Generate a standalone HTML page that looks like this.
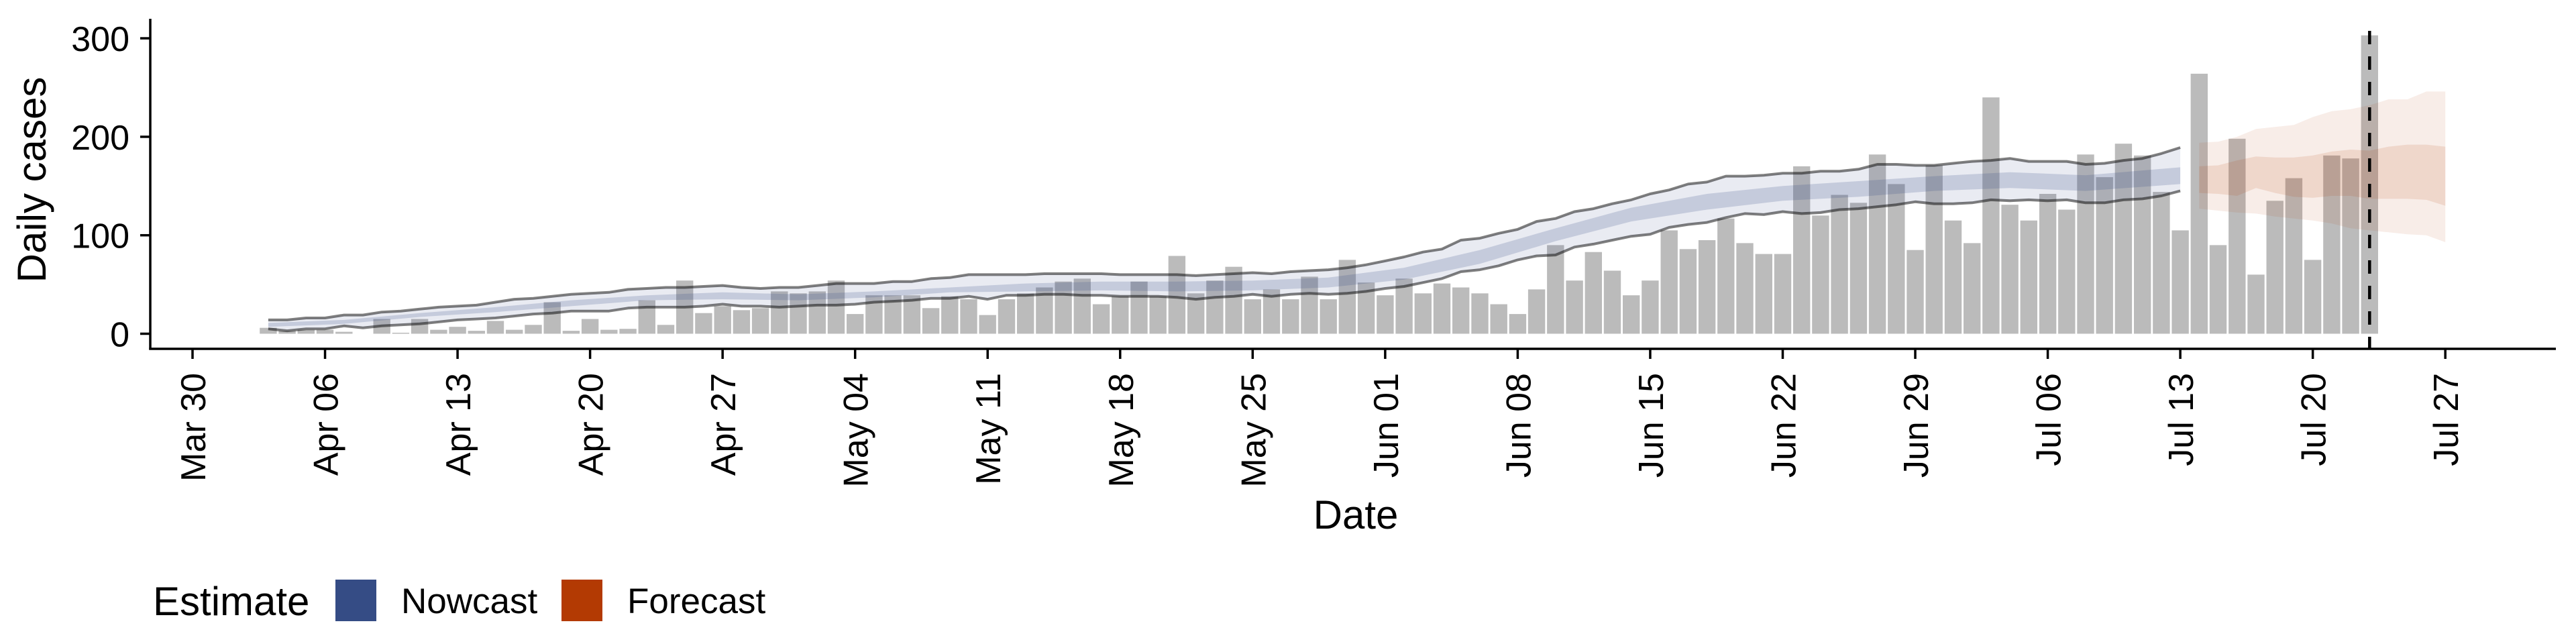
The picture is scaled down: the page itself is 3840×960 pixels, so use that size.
<!DOCTYPE html>
<html>
<head>
<meta charset="utf-8">
<style>
  html,body{margin:0;padding:0;background:#fff;}
  svg{display:block;}
  text{font-family:"Liberation Sans",Arial,sans-serif;fill:#000;}
</style>
</head>
<body>
<svg id="chart" width="3840" height="960" viewBox="0 0 3840 960" xmlns="http://www.w3.org/2000/svg">
  <g id="bars"></g>
  <g id="bands"></g>
  <g id="lines"></g>
  <g id="axes"></g>
  <text x="52" y="268" font-size="60" text-anchor="middle" transform="rotate(-90 52 268)" dominant-baseline="middle">Daily cases</text>
  <text x="2021" y="788" font-size="60" text-anchor="middle">Date</text>
  <g>
    <text x="228" y="917" font-size="60">Estimate</text>
    <rect x="500" y="864" width="61" height="62" fill="#354c85"></rect>
    <text x="598" y="914" font-size="53">Nowcast</text>
    <rect x="837" y="864" width="61" height="62" fill="#b33a03"></rect>
    <text x="935" y="914" font-size="53">Forecast</text>
  </g>
</svg>
<script>
// ---- data ----
const barStartDay = 4; // days since Mar 30
const cases = [6,3,4,4,2,0,15,1,15,4,7,3,13,4,9,32,3,15,4,5,34,9,54,21,
  28,24,26,43,41,43,54,20,39,39,39,26,38,35,19,35,41,47,53,56,30,38,53,38,79,
  41,54,68,35,45,35,58,35,75,52,39,56,41,51,47,41,30,20,45,90,54,83,64,39,
  54,105,86,95,117,92,81,81,170,120,141,133,182,152,85,171,115,92,240,131,115,142,126,182,
  159,193,181,144,105,264,90,198,60,135,158,75,181,178,303];
const nowStartDay = 4;
const nowUpper90 = [14,14,16,16,19,19,22,23,25,27,28,29,32,35,36,38,40,41,42,45,46,47,47,48,49,
  47,46,47,47,49,51,51,51,53,53,56,57,60,60,60,60,61,61,61,61,60,60,60,60,
  59,60,61,62,61,63,64,65,67,70,74,78,83,86,95,97,102,106,114,117,124,127,132,136,
  142,146,152,154,160,160,161,163,163,165,165,167,172,172,171,171,173,175,176,178,175,175,175,172,
  173,176,178,183,189];
const nowLower90 = [5,3,5,5,8,6,8,9,10,12,14,15,16,18,20,21,23,23,23,26,27,27,27,28,30,
  28,28,27,28,29,29,30,32,33,34,36,36,38,35,39,39,40,40,39,39,38,38,38,37,
  35,37,38,40,38,40,41,40,41,43,46,48,52,56,63,65,69,75,79,80,88,91,95,99,
  101,108,111,113,118,122,121,124,122,123,126,127,129,131,134,132,132,133,136,135,136,135,136,133,
  133,136,137,140,145];
const now50Days = [4,8,12,16,20,24,28,32,36,40,44,48,52,56,60,64,68,72,76,80,84,88,92,96,100,105];
const nowUpper50 = [11,14,21,27,34,39,42,40,43,47,51,53,53,54,57,67,85,107,128,142,150,155,160,164,161,169];
const nowLower50 = [7,10,17,22,28,34,35,34,37,42,43,44,43,44,47,55,71,94,114,126,135,139,145,148,145,152];
const foreStartDay = 106;
const foreUpper90 = [194,195,200,208,210,212,220,226,228,232,238,238,246,246];
const foreLower90 = [127,125,123,122,119,117,115,112,107,105,103,101,100,93];
const foreUpper50 = [170,171,176,180,179,179,181,185,187,186,190,192,192,190];
const foreLower50 = [143,142,140,148,143,139,138,140,140,137,137,137,136,130];
const dataDay = 115;
const yTicks = [0,100,200,300];
const xTickLabels = ["Mar 30","Apr 06","Apr 13","Apr 20","Apr 27","May 04","May 11","May 18","May 25","Jun 01","Jun 08","Jun 15","Jun 22","Jun 29","Jul 06","Jul 13","Jul 20","Jul 27"];

// ---- scales ----
const X0 = 287, DAYPX = 28.22, Y0 = 497.5, VPX = 1.468;
function x(d){ return X0 + d*DAYPX; }
function y(v){ return Y0 - v*VPX; }
const NS = "http://www.w3.org/2000/svg";
function mk(tag, attrs, parent){
  const e = document.createElementNS(NS, tag);
  for (const k in attrs) e.setAttribute(k, attrs[k]);
  parent.appendChild(e);
  return e;
}
function bandPath(days, up, lo){
  let p = "";
  days.forEach((d,i)=>{ p += (i?"L":"M") + x(d).toFixed(1) + "," + y(up[i]).toFixed(1); });
  for (let i=days.length-1;i>=0;i--) p += "L" + x(days[i]).toFixed(1) + "," + y(lo[i]).toFixed(1);
  return p + "Z";
}
function linePath(days, vals){
  return days.map((d,i)=>(i?"L":"M")+x(d).toFixed(1)+","+y(vals[i]).toFixed(1)).join("");
}
function seq(start, n){ const a=[]; for(let i=0;i<n;i++) a.push(start+i); return a; }

// ---- bars ----
const gb = document.getElementById("bars");
const bw = DAYPX*0.9;
cases.forEach((v,i)=>{
  const d = barStartDay + i;
  const r = mk("rect", {x:(x(d)-bw/2).toFixed(1), y:y(v).toFixed(1), width:bw.toFixed(1), height:(v*VPX).toFixed(1), fill:"#bbbbbb"}, gb);
  
  
});

// ---- bands ----
const gband = document.getElementById("bands");
const nowDays = seq(nowStartDay, nowUpper90.length);
let e;
e = mk("path", {d:bandPath(nowDays, nowUpper90, nowLower90), fill:"rgba(53,76,133,0.11)"}, gband);


e = mk("path", {d:bandPath(now50Days, nowUpper50, nowLower50), fill:"rgba(53,76,133,0.2)"}, gband);


const foreDays = seq(foreStartDay, foreUpper90.length);
e = mk("path", {d:bandPath(foreDays, foreUpper90, foreLower90), fill:"rgba(179,58,3,0.09)"}, gband);


e = mk("path", {d:bandPath(foreDays, foreUpper50, foreLower50), fill:"rgba(179,58,3,0.12)"}, gband);



// ---- lines ----
const gl = document.getElementById("lines");
e = mk("path", {d:linePath(nowDays, nowUpper90), fill:"none", stroke:"rgba(0,0,0,0.5)", "stroke-width":4, "stroke-linejoin":"round"}, gl);


e = mk("path", {d:linePath(nowDays, nowLower90), fill:"none", stroke:"rgba(0,0,0,0.5)", "stroke-width":4, "stroke-linejoin":"round"}, gl);


e = mk("line", {x1:x(dataDay), x2:x(dataDay), y1:46, y2:520, stroke:"#000", "stroke-width":4.5, "stroke-dasharray":"20 18"}, gl);



// ---- axes ----
const ga = document.getElementById("axes");
e = mk("line", {x1:224, x2:224, y1:28, y2:521.5, stroke:"#000", "stroke-width":3.5}, ga);


e = mk("line", {x1:222.3, x2:3810, y1:520, y2:520, stroke:"#000", "stroke-width":3.5}, ga);


yTicks.forEach(v=>{
  e = mk("line", {x1:209, x2:224, y1:y(v), y2:y(v), stroke:"#000", "stroke-width":3.5}, ga);
  
  
  e = mk("text", {x:193, y:y(v)+19, "font-size":52, "text-anchor":"end"}, ga);
  e.textContent = String(v);
  
  
});
xTickLabels.forEach((lab,i)=>{
  const d = i*7, px = x(d);
  e = mk("line", {x1:px, x2:px, y1:520, y2:535, stroke:"#000", "stroke-width":3.5}, ga);
  
  
  const tx = px + 19, ty = 556;
  e = mk("text", {x:tx, y:ty, "font-size":52, "text-anchor":"end", transform:"rotate(-90 "+tx+" "+ty+")"}, ga);
  e.textContent = lab;
  
  
});
</script>
</body>
</html>
